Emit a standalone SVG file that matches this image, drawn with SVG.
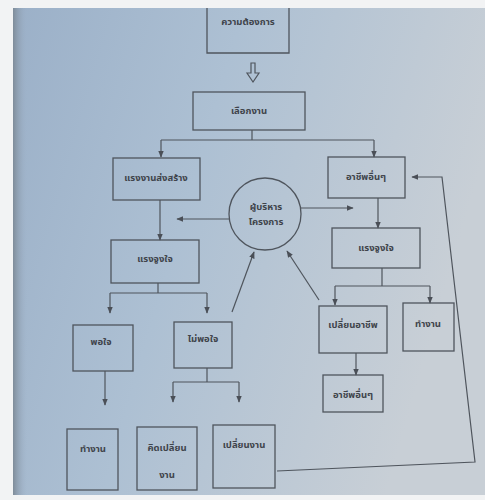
<svg xmlns="http://www.w3.org/2000/svg" width="485" height="500" viewBox="0 0 485 500">
<defs>
<linearGradient id="bg" x1="0" y1="0" x2="1" y2="0.3">
<stop offset="0" stop-color="#9bb0c8"/>
<stop offset="0.45" stop-color="#adc0d3"/>
<stop offset="1" stop-color="#c8cfd6"/>
</linearGradient>
<linearGradient id="edge" x1="0" y1="0" x2="1" y2="0">
<stop offset="0" stop-color="#7f8c99"/>
<stop offset="1" stop-color="#9db0c6" stop-opacity="0"/>
</linearGradient>
<marker id="ah" viewBox="0 0 10 10" refX="9" refY="5" markerWidth="7" markerHeight="7" orient="auto-start-reverse" markerUnits="userSpaceOnUse">
<path d="M0,1 L10,5 L0,9 z" fill="#4a4f57"/>
</marker>
<style>
.box{fill:none;stroke:#4f555d;stroke-width:1.3}
.ln{fill:none;stroke:#4f555d;stroke-width:1.2}
.ar{fill:none;stroke:#4f555d;stroke-width:1.2;marker-end:url(#ah)}
.t{font-family:"Noto Sans Thai","Noto Sans","Liberation Sans",sans-serif;font-size:9.5px;fill:#3f444b;text-anchor:middle;font-weight:bold}
</style>
</defs>
<rect width="485" height="500" fill="#f2f3f4"/>
<rect x="13" y="8" width="472" height="487" fill="url(#bg)"/>
<rect x="13" y="8" width="14" height="487" fill="url(#edge)"/>

<g id="connectors">
<path class="ln" d="M251,63 h4 v10 h4 l-6,9 l-6,-9 h4 z" stroke-width="1"/>
<path class="ln" d="M252,130 V140 M161,140 H374"/>
<path class="ar" d="M161,140 V157"/>
<path class="ar" d="M374,140 V157"/>
<path class="ar" d="M160,200 V240"/>
<path class="ar" d="M378,198 V228"/>
<path class="ar" d="M230,219 H177"/>
<path class="ar" d="M300,208 H353"/>
<path class="ln" d="M158,283 V293 M110,293 H207"/>
<path class="ar" d="M110,293 V313"/>
<path class="ar" d="M207,293 V313"/>
<path class="ln" d="M382,268 V286 M335,286 H430"/>
<path class="ar" d="M335,286 V305"/>
<path class="ar" d="M430,286 V303"/>
<path class="ar" d="M232,312 L254,252"/>
<path class="ar" d="M319,300 L287,251"/>
<path class="ar" d="M356,353 V375"/>
<path class="ar" d="M105,371 V405"/>
<path class="ln" d="M207,368 V382 M173,382 H239"/>
<path class="ar" d="M173,382 V402"/>
<path class="ar" d="M239,382 V402"/>
<path class="ar" d="M277,471 L475,462 L442,177 H412"/>
</g>

<g id="need"><path class="box" d="M207,8 V53 H289 V8"/><text class="t" x="248" y="25">ความต้องการ</text></g>
<g id="choose"><rect class="box" x="193" y="92" width="112" height="38"/><text class="t" x="249" y="114">เลือกงาน</text></g>
<g id="labor"><rect class="box" x="113" y="158" width="87" height="42"/><text class="t" x="156" y="181">แรงงานส่งสร้าง</text></g>
<g id="othercareer"><rect class="box" x="328" y="157" width="77" height="41"/><text class="t" x="366" y="180">อาชีพอื่นๆ</text></g>
<g id="manager"><circle class="box" cx="265" cy="214" r="36"/><text class="t" x="266" y="210">ผู้บริหาร</text><text class="t" x="266" y="225">โครงการ</text></g>
<g id="motiveL"><rect class="box" x="111" y="240" width="88" height="43"/><text class="t" x="155" y="262">แรงจูงใจ</text></g>
<g id="motiveR"><rect class="box" x="332" y="228" width="88" height="40"/><text class="t" x="376" y="251">แรงจูงใจ</text></g>
<g id="satisfied"><rect class="box" x="73" y="325" width="60" height="46"/><text class="t" x="101" y="345">พอใจ</text></g>
<g id="unsatisfied"><rect class="box" x="174" y="322" width="58" height="46"/><text class="t" x="203" y="342">ไม่พอใจ</text></g>
<g id="changecareer"><rect class="box" x="319" y="306" width="68" height="47"/><text class="t" x="353" y="328">เปลี่ยนอาชีพ</text></g>
<g id="workR"><rect class="box" x="403" y="303" width="51" height="48"/><text class="t" x="428" y="327">ทำงาน</text></g>
<g id="othercareer2"><rect class="box" x="323" y="375" width="60" height="37"/><text class="t" x="353" y="398">อาชีพอื่นๆ</text></g>
<g id="workL"><rect class="box" x="67" y="429" width="51" height="61"/><text class="t" x="93" y="452">ทำงาน</text></g>
<g id="thinkchange"><rect class="box" x="137" y="427" width="60" height="63"/><text class="t" x="167" y="451">คิดเปลี่ยน</text><text class="t" x="167" y="478">งาน</text></g>
<g id="changejob"><rect class="box" x="213" y="425" width="62" height="63"/><text class="t" x="244" y="448">เปลี่ยนงาน</text></g>
</svg>
